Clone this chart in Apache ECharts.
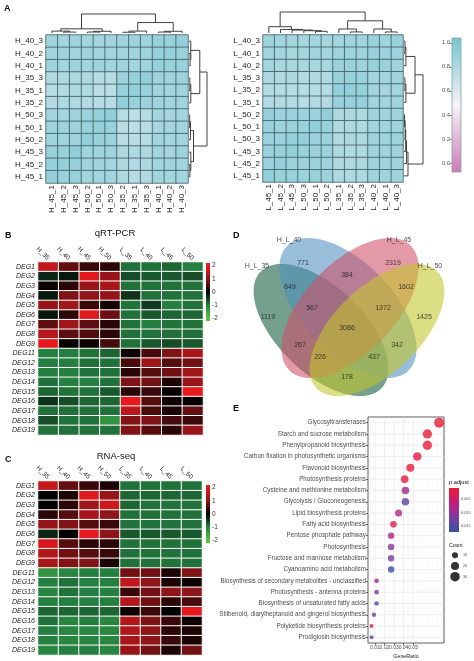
<!DOCTYPE html>
<html><head><meta charset="utf-8">
<script src="https://cdn.jsdelivr.net/npm/echarts/dist/echarts.min.js"></script>
<style>html,body{margin:0;padding:0;background:#fff}#main{width:474px;height:661px}</style>
</head><body><div id="main"></div>
<script>
// ---------------- DATA ----------------
const hRows = ['H_40_3','H_40_2','H_40_1','H_35_3','H_35_1','H_35_2','H_50_3','H_50_1','H_50_2','H_45_3','H_45_2','H_45_1'];
const hCols = ['H_45_1','H_45_2','H_45_3','H_50_2','H_50_1','H_50_3','H_35_2','H_35_1','H_35_3','H_40_1','H_40_2','H_40_3'];
const hCorr = [
 [0.86,0.85,0.86,0.85,0.84,0.85,0.86,0.87,0.86,0.89,0.89,0.91],
 [0.85,0.86,0.85,0.86,0.85,0.84,0.85,0.86,0.87,0.90,0.91,0.89],
 [0.86,0.85,0.86,0.85,0.86,0.85,0.86,0.85,0.86,0.91,0.89,0.90],
 [0.78,0.80,0.80,0.80,0.76,0.76,0.88,0.90,0.92,0.86,0.86,0.87],
 [0.76,0.78,0.80,0.79,0.74,0.74,0.90,0.92,0.90,0.86,0.85,0.86],
 [0.78,0.80,0.80,0.78,0.76,0.76,0.92,0.90,0.88,0.86,0.86,0.86],
 [0.85,0.85,0.87,0.88,0.90,0.92,0.76,0.74,0.76,0.84,0.84,0.84],
 [0.86,0.87,0.87,0.90,0.92,0.90,0.75,0.74,0.75,0.84,0.85,0.84],
 [0.86,0.86,0.87,0.92,0.90,0.88,0.76,0.75,0.76,0.85,0.84,0.84],
 [0.90,0.90,0.92,0.86,0.86,0.86,0.80,0.79,0.80,0.85,0.85,0.86],
 [0.90,0.92,0.90,0.86,0.86,0.85,0.80,0.78,0.80,0.85,0.86,0.85],
 [0.92,0.90,0.90,0.85,0.85,0.85,0.80,0.76,0.78,0.85,0.85,0.85]
];
const lRows = ['L_40_3','L_40_1','L_40_2','L_35_3','L_35_2','L_35_1','L_50_2','L_50_1','L_50_3','L_45_3','L_45_2','L_45_1'];
const lCols = ['L_45_1','L_45_2','L_45_3','L_50_3','L_50_1','L_50_2','L_35_1','L_35_2','L_35_3','L_40_2','L_40_1','L_40_3'];
const lCorr = [
 [0.86,0.85,0.84,0.84,0.85,0.84,0.85,0.86,0.86,0.88,0.86,0.88],
 [0.85,0.85,0.83,0.84,0.85,0.85,0.86,0.86,0.87,0.89,0.88,0.87],
 [0.84,0.83,0.83,0.83,0.83,0.83,0.87,0.88,0.87,0.90,0.88,0.86],
 [0.80,0.79,0.80,0.78,0.78,0.79,0.90,0.90,0.89,0.85,0.85,0.86],
 [0.77,0.77,0.76,0.76,0.76,0.77,0.91,0.92,0.90,0.85,0.84,0.85],
 [0.78,0.78,0.77,0.76,0.78,0.78,0.90,0.90,0.90,0.85,0.85,0.86],
 [0.90,0.88,0.88,0.88,0.88,0.92,0.80,0.80,0.79,0.86,0.86,0.87],
 [0.90,0.88,0.88,0.90,0.92,0.90,0.79,0.80,0.79,0.85,0.86,0.86],
 [0.88,0.88,0.90,0.92,0.88,0.88,0.79,0.80,0.80,0.86,0.86,0.87],
 [0.88,0.89,0.92,0.90,0.88,0.88,0.80,0.79,0.80,0.86,0.86,0.86],
 [0.88,0.92,0.88,0.88,0.88,0.87,0.80,0.79,0.80,0.86,0.86,0.86],
 [0.92,0.90,0.89,0.88,0.90,0.88,0.80,0.80,0.80,0.86,0.86,0.86]
];
// dendrogram linkages [childA, childB, height]; leaves 0..11 in display order
const hColLink = [[1,2,0.05],[0,12,0.10],[3,4,0.05],[14,5,0.09],[13,15,0.22],[6,7,0.04],[17,8,0.10],[9,10,0.05],[19,11,0.09],[18,20,0.55],[16,21,1.0]];
const hRowLink = [[1,2,0.06],[0,12,0.10],[3,4,0.05],[14,5,0.10],[13,15,0.60],[6,7,0.04],[17,8,0.08],[10,11,0.05],[9,19,0.10],[18,20,0.25],[16,21,1.0]];
const lColLink = [[4,5,0.08],[3,12,0.11],[2,13,0.14],[1,14,0.17],[0,15,0.30],[7,8,0.05],[6,17,0.19],[10,11,0.05],[9,19,0.19],[18,20,0.58],[16,21,1.0]];
const lRowLink = [[0,1,0.05],[12,2,0.10],[3,4,0.05],[14,5,0.10],[13,15,0.58],[6,7,0.03],[17,8,0.06],[18,9,0.09],[19,10,0.13],[20,11,0.21],[16,21,1.0]];
const corrTicks = [0, 0.2, 0.4, 0.6, 0.8, 1.0];

const degGenes = ['DEG1','DEG2','DEG3','DEG4','DEG5','DEG6','DEG7','DEG8','DEG9','DEG11','DEG12','DEG13','DEG14','DEG15','DEG16','DEG17','DEG18','DEG19'];
const conditions = ['H_35','H_40','H_45','H_50','L_35','L_40','L_45','L_50'];
const qpcr = [
 [1.6,0.7,0.4,0.3,-0.9,-0.9,-0.8,-1.0],
 [-0.3,-0.2,1.95,1.1,-0.6,-0.7,-0.7,-0.6],
 [0.1,0.3,1.1,1.3,-0.9,-0.9,-0.9,-0.9],
 [-0.2,0.9,1.0,1.1,-0.4,-0.9,-0.9,-0.9],
 [1.1,1.2,0.4,0.15,-0.9,-0.45,-1.0,-0.9],
 [-0.2,0.3,1.9,0.75,-0.9,-0.7,-0.8,-0.8],
 [0.65,1.2,0.65,0.3,-0.9,-1.0,-0.9,-0.9],
 [1.4,0.65,0.55,0.3,-0.9,-0.9,-0.9,-0.9],
 [2.0,0.05,0.1,0.5,-0.9,-0.7,-0.6,-0.7],
 [-1.0,-1.0,-0.9,-0.8,0.1,0.5,0.9,1.3],
 [-1.0,-1.0,-0.9,-0.9,0.5,1.2,0.6,0.8],
 [-1.0,-1.0,-0.9,-0.9,0.3,0.6,0.8,1.2],
 [-0.9,-1.0,-1.0,-0.9,0.9,0.8,0.2,1.1],
 [-0.8,-0.9,-0.9,-0.7,0.3,0.4,0.05,2.0],
 [-0.4,-0.6,-0.8,-0.8,2.0,0.6,0.1,0.05],
 [-0.9,-0.9,-0.9,-0.9,1.5,0.5,0.2,0.7],
 [-0.6,-0.9,-0.9,-1.3,0.9,0.9,0.5,0.4],
 [-0.9,-0.9,-0.9,-0.9,0.9,0.6,0.3,1.1]
];
const rnaseq = [
 [1.6,0.7,0.4,0.2,-0.9,-0.9,-0.9,-0.9],
 [0.0,0.2,1.9,1.1,-0.8,-0.8,-0.8,-0.8],
 [0.0,0.3,1.2,1.7,-0.8,-0.9,-0.9,-0.9],
 [0.3,0.6,1.3,1.0,-0.9,-0.9,-0.9,-0.9],
 [1.1,0.9,0.6,0.4,-0.9,-0.9,-0.9,-0.9],
 [-0.3,0.0,2.0,1.0,-0.7,-0.7,-0.7,-0.7],
 [1.8,0.6,0.3,0.3,-0.9,-0.9,-0.9,-0.9],
 [1.4,0.8,0.6,0.4,-0.9,-0.9,-0.9,-0.9],
 [1.3,0.9,0.9,0.2,-0.9,-0.9,-0.9,-0.9],
 [-1.3,-1.1,-1.0,-1.0,0.8,0.8,0.2,0.9],
 [-1.0,-0.9,-1.0,-1.0,1.6,1.0,0.2,0.1],
 [-1.1,-0.9,-1.0,-1.0,0.4,0.8,1.0,1.0],
 [-1.0,-1.0,-1.0,-1.0,1.4,0.8,0.3,0.5],
 [-0.8,-0.8,-0.8,-0.8,0.1,0.4,0.0,2.0],
 [-0.9,-1.1,-1.0,-1.1,1.4,0.9,0.4,0.1],
 [-1.0,-1.1,-1.1,-1.1,1.4,1.0,0.3,0.2],
 [-1.0,-1.1,-1.1,-1.1,1.3,1.0,0.4,0.2],
 [-1.1,-1.0,-1.0,-1.1,1.1,0.8,0.2,0.8]
];
const degTicks = [-2, -1, 0, 1, 2];

const vennSets = ['H_L_35','H_L_40','H_L_45','H_L_50'];
const vennCounts = [1119, 771, 2319, 1425, 649, 384, 1602, 567, 1372, 3086, 267, 342, 226, 437, 178];

const keggTerms = ['Glycosyltransferases','Starch and sucrose metabolism','Phenylpropanoid biosynthesis','Carbon fixation in photosynthetic organisms','Flavonoid biosynthesis','Photosynthesis proteins','Cysteine and methionine metabolism','Glycolysis / Gluconeogenesis','Lipid biosynthesis proteins','Fatty acid biosynthesis','Pentose phosphate pathway','Photosynthesis','Fructose and mannose metabolism','Cyanoamino acid metabolism','Biosynthesis of secondary metabolites - unclassified','Photosynthesis - antenna proteins','Biosynthesis of unsaturated fatty acids','Stilbenoid, diarylheptanoid and gingerol biosynthesis','Polyketide biosynthesis proteins','Prodigiosin biosynthesis'];
const geneRatio = [0.0773,0.0650,0.0650,0.0544,0.0472,0.0412,0.0420,0.0420,0.0348,0.0295,0.0270,0.0270,0.0270,0.0270,0.0118,0.0118,0.0118,0.0090,0.0065,0.0065];
const pAdjust = [0.0015,0.0017,0.0018,0.0020,0.0022,0.0025,0.0090,0.0140,0.0080,0.0030,0.0080,0.0110,0.0120,0.0160,0.0080,0.0120,0.0150,0.0120,0.0030,0.0130];
const geneCount = [33,28,28,23,20,18,18,18,15,13,12,12,12,12,5,5,5,4,3,3];
const ratioTicks = [0.01, 0.02, 0.03, 0.04, 0.05];
const ratioGrid = [0.005,0.01,0.015,0.02,0.025,0.03,0.035,0.04,0.045,0.05,0.055,0.06,0.065,0.07,0.075,0.08];
const pTicks = [0.005, 0.010, 0.015];
const countTicks = [10, 20, 30];

// ---------------- STYLE / LAYOUT ----------------
const FONT = 'Liberation Sans, Arial, Helvetica, sans-serif';
const corrColors = ['#d079b8', '#f7f3f6', '#77c5d1'];
const corrRange = [-0.075, 1.04];
const degColors = ['#58c23c', '#247f41', '#000000', '#8e1518', '#e8191e'];
const degBarRange = [-2.2, 2.2];
const pColors = ['#ee1b2c', '#c41a7c', '#7a3d9e', '#3650a2'];
const pRange = [0.0009, 0.0172];
const vennFill = ['#0f5c3a', '#4f8fc0', '#d04f68', '#c2c62a'];
const vennShapes = [ // cx, cy, semi-major, semi-minor, angle(deg) in page pixels
 [321, 330, 84, 43, 44], [348, 308, 87, 45, 46], [350, 308, 87, 45, -46], [377, 330, 84, 43, -44]
];
const vennSetPos = [[257,266],[289,240],[399,240],[430,266]];
const vennCountPos = [[268,317],[303,263],[393,263],[424,317],[290,287],[347,275],[406,287],[312,308],[383,308],[347,328],[300,345],[397,345],[320,357],[374,357],[347,377]];

const grids = [
 {left:46, top:35, width:142, height:148},   //0 H heat
 {left:46, top:14, width:142, height:19},    //1 H top dendro
 {left:189, top:35, width:18, height:148},   //2 H right dendro
 {left:263, top:35, width:140, height:147},  //3 L heat
 {left:263, top:12, width:140, height:21},   //4 L top dendro
 {left:404, top:35, width:19, height:147},   //5 L right dendro
 {left:452, top:38, width:9, height:134},    //6 corr bar
 {left:38, top:262, width:165, height:173},  //7 B heat
 {left:206, top:263, width:4, height:58},    //8 B bar
 {left:38, top:481, width:164, height:174},  //9 C heat
 {left:206, top:485, width:4, height:58},    //10 C bar
 {left:0, top:0, width:474, height:661},     //11 venn (page px)
 {left:368, top:417, width:76, height:226, show:true, borderColor:'#333', borderWidth:0.8, backgroundColor:'#fff'}, //12 E
 {left:449, top:488, width:10, height:44},   //13 p bar
 {left:450, top:550, width:10, height:32}    //14 count legend
];

// ---------------- HELPERS ----------------
function heatData(mat){ const d=[]; mat.forEach((row,r)=>row.forEach((v,c)=>d.push([c,r,v]))); return d; }
function dendroSegs(link, n){
  const pos=[], h=[]; for(let i=0;i<n;i++){pos.push(i+0.5);h.push(0);}
  const segs=[];
  link.forEach(([a,b,ht])=>{
    segs.push([pos[a],h[a],pos[a],ht]); segs.push([pos[a],ht,pos[b],ht]); segs.push([pos[b],ht,pos[b],h[b]]);
    pos.push((pos[a]+pos[b])/2); h.push(ht);
  });
  return segs;
}
function segRender(params, api){
  const p1 = api.coord([api.value(0), api.value(1)]);
  const p2 = api.coord([api.value(2), api.value(3)]);
  return {type:'line', shape:{x1:p1[0],y1:p1[1],x2:p2[0],y2:p2[1]}, style:{stroke:'#2b2b2b', lineWidth:0.9}};
}
function stopsFor(colors, vmin, vmax, top, bottom){
  const st=[]; const n=colors.length;
  st.push({offset:0, color: colors[(top>bottom)? n-1:0]});
  colors.forEach((c,i)=>{
    const v = vmin + (vmax-vmin)*i/(n-1);
    const off = (top - v)/(top - bottom);
    if(off>=0 && off<=1) st.push({offset:off, color:c});
  });
  st.push({offset:1, color: colors[(top>bottom)? 0:n-1]});
  st.sort((a,b)=>a.offset-b.offset);
  return st;
}
function barSeries(gi, lo, hi, stops, stroke){
  return {type:'custom', xAxisIndex:gi, yAxisIndex:gi, silent:true, data:[[0, lo, hi]],
    renderItem:(params, api)=>{
      const p0 = api.coord([0, api.value(1)]), p1 = api.coord([1, api.value(2)]);
      const x=Math.min(p0[0],p1[0]), y=Math.min(p0[1],p1[1]);
      return {type:'rect', shape:{x:x, y:y, width:Math.abs(p1[0]-p0[0]), height:Math.abs(p1[1]-p0[1])},
        style:{fill:new echarts.graphic.LinearGradient(0,0,0,1,stops), stroke:stroke||null, lineWidth:stroke?0.8:0}};
    }};
}
const hid = (gi, min, max, extra) => Object.assign({type:'value', gridIndex:gi, min:min, max:max, show:false}, extra||{});
const noLine = {axisLine:{show:false}, axisTick:{show:false}, splitLine:{show:false}};

// ---------------- AXES ----------------
const xAxis = [], yAxis = [];
xAxis.push(Object.assign({type:'category', gridIndex:0, data:hCols, position:'bottom', axisLabel:{rotate:90, fontSize:8, margin:2, color:'#222', fontFamily:FONT}}, noLine));
yAxis.push(Object.assign({type:'category', gridIndex:0, data:hRows, inverse:true, axisLabel:{fontSize:8, margin:3, color:'#222', fontFamily:FONT}}, noLine));
xAxis.push(hid(1,0,12)); yAxis.push(hid(1,0,1));
xAxis.push(hid(2,0,1)); yAxis.push(hid(2,0,12,{inverse:true}));
xAxis.push(Object.assign({type:'category', gridIndex:3, data:lCols, position:'bottom', axisLabel:{rotate:90, fontSize:8, margin:2, color:'#222', fontFamily:FONT}}, noLine));
yAxis.push(Object.assign({type:'category', gridIndex:3, data:lRows, inverse:true, axisLabel:{fontSize:8, margin:3, color:'#222', fontFamily:FONT}}, noLine));
xAxis.push(hid(4,0,12)); yAxis.push(hid(4,0,1));
xAxis.push(hid(5,0,1)); yAxis.push(hid(5,0,12,{inverse:true}));
xAxis.push(hid(6,0,1));
yAxis.push({type:'value', gridIndex:6, min:corrRange[0], max:corrRange[1], position:'left',
  axisLine:{show:false}, splitLine:{show:false},
  axisTick:{show:true, customValues:corrTicks, length:2.5, lineStyle:{color:'#555', width:0.7}},
  axisLabel:{customValues:corrTicks, formatter:v=>v.toFixed(1), fontSize:5.8, margin:2, color:'#555', fontFamily:FONT}});
xAxis.push(Object.assign({type:'category', gridIndex:7, data:conditions, position:'top', axisLabel:{rotate:45, fontSize:6.5, margin:3, color:'#222', fontFamily:FONT}}, noLine));
yAxis.push(Object.assign({type:'category', gridIndex:7, data:degGenes, inverse:true, axisLabel:{fontSize:7, fontStyle:'italic', margin:3, color:'#222', fontFamily:FONT}}, noLine));
xAxis.push(hid(8,0,1));
yAxis.push({type:'value', gridIndex:8, min:degBarRange[0], max:degBarRange[1], position:'right', axisLine:{show:false}, splitLine:{show:false}, axisTick:{show:false},
  axisLabel:{customValues:degTicks, formatter:v=>String(v), fontSize:6.5, margin:2, color:'#333', fontFamily:FONT}});
xAxis.push(Object.assign({type:'category', gridIndex:9, data:conditions, position:'top', axisLabel:{rotate:45, fontSize:6.5, margin:3, color:'#222', fontFamily:FONT}}, noLine));
yAxis.push(Object.assign({type:'category', gridIndex:9, data:degGenes, inverse:true, axisLabel:{fontSize:7, fontStyle:'italic', margin:3, color:'#222', fontFamily:FONT}}, noLine));
xAxis.push(hid(10,0,1));
yAxis.push({type:'value', gridIndex:10, min:degBarRange[0], max:degBarRange[1], position:'right', axisLine:{show:false}, splitLine:{show:false}, axisTick:{show:false},
  axisLabel:{customValues:degTicks, formatter:v=>String(v), fontSize:6.5, margin:2, color:'#333', fontFamily:FONT}});
xAxis.push(hid(11,0,474)); yAxis.push(hid(11,0,661,{inverse:true}));
xAxis.push({type:'value', gridIndex:12, min:0.0028, max:0.0824, axisLine:{show:false}, splitLine:{show:false},
  axisTick:{show:true, customValues:ratioTicks, length:2, lineStyle:{color:'#333', width:0.7}},
  axisLabel:{customValues:ratioTicks, formatter:v=>v.toFixed(2), fontSize:5, margin:2, color:'#4d4d4d', fontFamily:FONT},
  name:'GeneRatio', nameLocation:'middle', nameGap:11, nameTextStyle:{fontSize:5.3, color:'#222', fontFamily:FONT}});
yAxis.push({type:'category', gridIndex:12, data:keggTerms, inverse:true, axisLine:{show:false}, splitLine:{show:false},
  axisTick:{show:true, length:2, alignWithLabel:true, lineStyle:{color:'#333', width:0.7}},
  axisLabel:{fontSize:6.3, margin:2, color:'#4d4d4d', fontFamily:FONT}});
xAxis.push(hid(13,0,1));
yAxis.push({type:'value', gridIndex:13, min:pRange[0], max:pRange[1], inverse:true, position:'right', axisLine:{show:false}, splitLine:{show:false}, axisTick:{show:false},
  axisLabel:{customValues:pTicks, formatter:v=>v.toFixed(3), fontSize:3.8, margin:2, color:'#4d4d4d', fontFamily:FONT}});
xAxis.push(hid(14,0,1));
yAxis.push(Object.assign({type:'category', gridIndex:14, data:countTicks.map(String), inverse:true, position:'right', axisLabel:{fontSize:3.8, margin:3, color:'#4d4d4d', fontFamily:FONT}}, noLine));

// ---------------- SERIES ----------------
const series = [];
series.push({type:'heatmap', xAxisIndex:0, yAxisIndex:0, data:heatData(hCorr), itemStyle:{borderColor:'#3d5c60', borderWidth:0.8}, emphasis:{disabled:true}});
series.push({type:'heatmap', xAxisIndex:3, yAxisIndex:3, data:heatData(lCorr), itemStyle:{borderColor:'#3d5c60', borderWidth:0.8}, emphasis:{disabled:true}});
series.push({type:'heatmap', xAxisIndex:7, yAxisIndex:7, data:heatData(qpcr), itemStyle:{borderColor:'#ffffff', borderWidth:1}, emphasis:{disabled:true}});
series.push({type:'heatmap', xAxisIndex:9, yAxisIndex:9, data:heatData(rnaseq), itemStyle:{borderColor:'#ffffff', borderWidth:1}, emphasis:{disabled:true}});
series.push({type:'custom', xAxisIndex:1, yAxisIndex:1, silent:true, data:dendroSegs(hColLink,12), renderItem:segRender});
series.push({type:'custom', xAxisIndex:2, yAxisIndex:2, silent:true, data:dendroSegs(hRowLink,12).map(s=>[s[1],s[0],s[3],s[2]]), renderItem:segRender});
series.push({type:'custom', xAxisIndex:4, yAxisIndex:4, silent:true, data:dendroSegs(lColLink,12), renderItem:segRender});
series.push({type:'custom', xAxisIndex:5, yAxisIndex:5, silent:true, data:dendroSegs(lRowLink,12).map(s=>[s[1],s[0],s[3],s[2]]), renderItem:segRender});
series.push(barSeries(6, corrRange[0], corrRange[1], stopsFor(corrColors, corrRange[0], corrRange[1], corrRange[1], corrRange[0]), '#7fa6ab'));
series.push(barSeries(8, degBarRange[0], degBarRange[1], stopsFor(degColors, -2, 2, degBarRange[1], degBarRange[0])));
series.push(barSeries(10, degBarRange[0], degBarRange[1], stopsFor(degColors, -2, 2, degBarRange[1], degBarRange[0])));
series.push(barSeries(13, pRange[0], pRange[1], stopsFor(pColors, pRange[0], pRange[1], pRange[0], pRange[1])));
series.push({type:'custom', xAxisIndex:11, yAxisIndex:11, silent:true, data:vennSets.map((s,i)=>[i]),
  renderItem:(params, api)=>{
    const [cx,cy,a,b,ang] = vennShapes[api.value(0)];
    const t = ang*Math.PI/180, pts=[];
    for(let k=0;k<120;k++){
      const u = 2*Math.PI*k/120;
      const x = cx + a*Math.cos(u)*Math.cos(t) - b*Math.sin(u)*Math.sin(t);
      const y = cy + a*Math.cos(u)*Math.sin(t) + b*Math.sin(u)*Math.cos(t);
      pts.push(api.coord([x,y]));
    }
    return {type:'polygon', shape:{points:pts}, style:{fill:vennFill[api.value(0)], opacity:0.58}};
  }});
series.push({type:'scatter', xAxisIndex:11, yAxisIndex:11, silent:true, z:10, symbolSize:1, itemStyle:{color:'rgba(0,0,0,0)'},
  data: vennCountPos.map((p,i)=>[p[0],p[1],vennCounts[i]]),
  label:{show:true, position:'inside', formatter:p=>String(p.value[2]), fontSize:7, color:'#1a1a1a', fontFamily:FONT}});
series.push({type:'scatter', xAxisIndex:11, yAxisIndex:11, silent:true, z:10, symbolSize:1, itemStyle:{color:'rgba(0,0,0,0)'},
  data: vennSetPos.map((p,i)=>[p[0],p[1],vennSets[i]]),
  label:{show:true, position:'inside', formatter:p=>p.value[2], fontSize:7, color:'#1a1a1a', fontFamily:FONT}});
series.push({type:'custom', xAxisIndex:12, yAxisIndex:12, silent:true, z:1, data:ratioGrid.map(v=>[v,0]),
  renderItem:(params, api)=>{
    const p = api.coord([api.value(0), 0]); const cs = params.coordSys;
    const major = ratioTicks.some(t=>Math.abs(t-api.value(0))<1e-9);
    return {type:'line', shape:{x1:p[0],y1:cs.y,x2:p[0],y2:cs.y+cs.height}, style:{stroke: major?'#e3e3e3':'#efefef', lineWidth: major?0.6:0.4}};
  }});
series.push({type:'custom', xAxisIndex:12, yAxisIndex:12, silent:true, z:1, data:keggTerms.map((t,i)=>[0.01,i]),
  renderItem:(params, api)=>{
    const p = api.coord([0.01, api.value(1)]); const cs = params.coordSys;
    return {type:'line', shape:{x1:cs.x,y1:p[1],x2:cs.x+cs.width,y2:p[1]}, style:{stroke:'#e3e3e3', lineWidth:0.6}};
  }});
const sizeOf = c => Math.sqrt(7.6 + 2.8*c);
series.push({type:'scatter', xAxisIndex:12, yAxisIndex:12, z:5, data:keggTerms.map((t,i)=>[geneRatio[i], i, pAdjust[i], geneCount[i]]),
  symbolSize:v=>sizeOf(v[3]), emphasis:{disabled:true}});
const eIdx = series.length-1;
series.push({type:'scatter', xAxisIndex:14, yAxisIndex:14, data:countTicks.map((c,i)=>[0.5,i,c]), symbolSize:v=>sizeOf(v[2]), itemStyle:{color:'#000'}, silent:true});

const titleStyle = (sz, w) => ({fontSize:sz, fontWeight:w||'normal', color:'#111', fontFamily:FONT});
const option = {
  animation:false,
  textStyle:{fontFamily:FONT},
  title:[
    {text:'A', left:4, top:4, padding:0, textStyle:titleStyle(9,'bold')},
    {text:'B', left:5, top:231, padding:0, textStyle:titleStyle(9,'bold')},
    {text:'C', left:5, top:455, padding:0, textStyle:titleStyle(9,'bold')},
    {text:'D', left:233, top:231, padding:0, textStyle:titleStyle(9,'bold')},
    {text:'E', left:233, top:404, padding:0, textStyle:titleStyle(9,'bold')},
    {text:'qRT-PCR', left:115, top:228, padding:0, textAlign:'center', textStyle:titleStyle(9.5)},
    {text:'RNA-seq', left:116, top:451, padding:0, textAlign:'center', textStyle:titleStyle(9.5)},
    {text:'p.adjust', left:449, top:479, padding:0, textStyle:titleStyle(5.7)},
    {text:'Count', left:449, top:543, padding:0, textStyle:titleStyle(5.1)}
  ],
  grid: grids,
  xAxis: xAxis, yAxis: yAxis,
  visualMap:[
    {type:'continuous', show:false, seriesIndex:[0,1], min:corrRange[0], max:corrRange[1], inRange:{color:corrColors}},
    {type:'continuous', show:false, seriesIndex:[2,3], min:-2, max:2, inRange:{color:degColors}},
    {type:'continuous', show:false, seriesIndex:[eIdx], dimension:2, min:pRange[0], max:pRange[1], inRange:{color:pColors}}
  ],
  series: series
};
const chart = echarts.init(document.getElementById('main'));
chart.setOption(option);
</script></body></html>
